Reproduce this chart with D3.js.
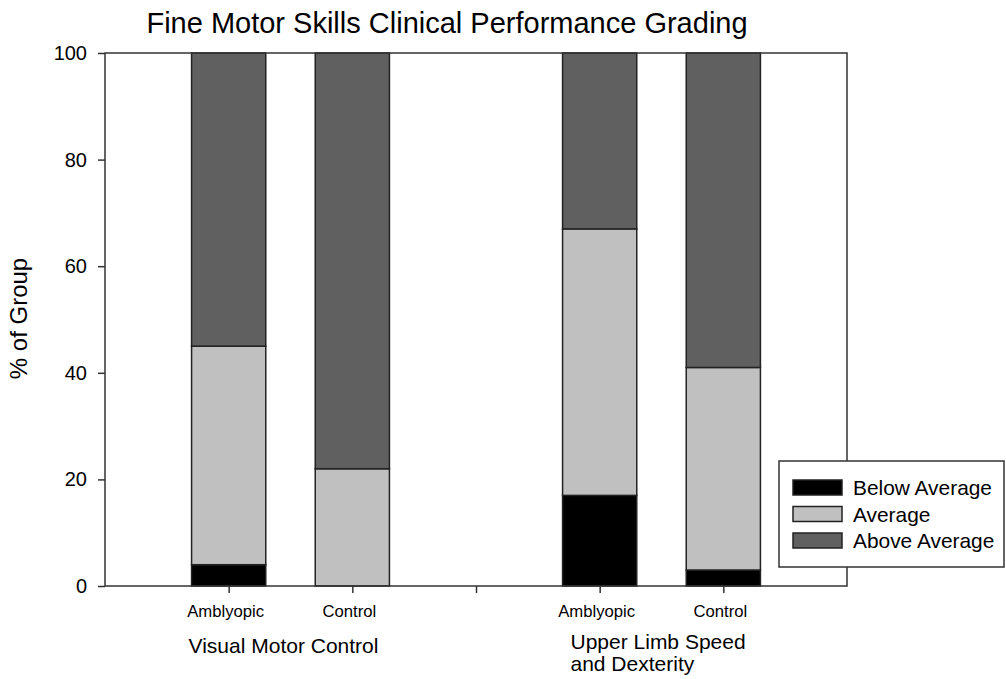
<!DOCTYPE html>
<html>
<head>
<meta charset="utf-8">
<script src="https://cdn.jsdelivr.net/npm/d3@7/dist/d3.min.js"></script>
<style>
  body { margin: 0; background: #fff; }
  text { font-family: "Liberation Sans", Arial, sans-serif; fill: #000; }
</style>
</head>
<body>
<script>
// data
const groups = ['Visual Motor Control', 'Upper Limb Speed\nand Dexterity']
const categories = ['Amblyopic', 'Control', 'Amblyopic', 'Control']
const categoryGroup = [0, 0, 1, 1]
const seriesNames = ['Below Average', 'Average', 'Above Average']
const belowAverage = [4, 0, 17, 3]
const average = [41, 22, 50, 38]
const aboveAverage = [55, 78, 33, 59]
const yTicks = [0, 20, 40, 60, 80, 100]
const colors = ['#000000', '#c0c0c0', '#606060']

const width = 1006
const height = 679
const margin = { top: 53, right: 159, bottom: 93, left: 105 }

const svg = d3.select('body')
  .append('svg')
  .attr('width', width)
  .attr('height', height)

const plotW = width - margin.left - margin.right
const plotH = height - margin.top - margin.bottom

// slot on the x axis: one empty slot between the two groups
const slot = (i) => i + 1 + categoryGroup[i]

const x = d3.scaleLinear().domain([0, 6]).range([margin.left, margin.left + plotW])
const y = d3.scaleLinear().domain([0, 100]).range([margin.top + plotH, margin.top])
const barW = (x(1) - x(0)) * 0.6

const rows = categories.map((c, i) => ({
  i: i,
  'Below Average': belowAverage[i],
  'Average': average[i],
  'Above Average': aboveAverage[i]
}))
const stacked = d3.stack().keys(seriesNames)(rows)

const bars = svg.append('g')
stacked.forEach((layer, k) => {
  bars.selectAll(null)
    .data(layer.filter(d => d[1] > d[0]))
    .enter()
    .append('rect')
    .attr('x', d => x(slot(d.data.i)) - barW / 2)
    .attr('width', barW)
    .attr('y', d => y(d[1]))
    .attr('height', d => y(d[0]) - y(d[1]))
    .attr('fill', colors[k])
    .attr('stroke', '#222')
    .attr('stroke-width', 1.5)
})

// frame
svg.append('rect')
  .attr('x', margin.left)
  .attr('y', margin.top)
  .attr('width', plotW)
  .attr('height', plotH)
  .attr('fill', 'none')
  .attr('stroke', '#333')
  .attr('stroke-width', 1.5)

// y axis
const yAxis = svg.append('g')
  .attr('transform', `translate(${margin.left},0)`)
  .call(d3.axisLeft(y).tickValues(yTicks).tickSize(7).tickPadding(11).tickFormat(d3.format('d')))
yAxis.select('.domain').remove()
yAxis.selectAll('line').attr('stroke', '#333').attr('stroke-width', 1.5)
yAxis.selectAll('text').attr('font-size', 20).attr('font-family', '"Liberation Sans", Arial, sans-serif')

// x axis ticks at slots 1..5
const xAxis = svg.append('g')
  .attr('transform', `translate(0,${margin.top + plotH})`)
  .call(d3.axisBottom(x).tickValues([1, 2, 3, 4, 5]).tickSize(7).tickFormat(''))
xAxis.select('.domain').remove()
xAxis.selectAll('line').attr('stroke', '#333').attr('stroke-width', 1.5)

// category labels
svg.selectAll('.cat')
  .data(categories)
  .enter()
  .append('text')
  .attr('class', 'cat')
  .attr('x', (d, i) => x(slot(i)) - 3)
  .attr('y', 617)
  .attr('text-anchor', 'middle')
  .attr('font-size', 16.7)
  .text(d => d)

// group labels
groups.forEach((g, gi) => {
  const idx = categoryGroup.map((v, i) => v === gi ? i : -1).filter(i => i >= 0)
  const cx = (x(slot(idx[0])) + x(slot(idx[idx.length - 1]))) / 2
  const lines = g.split('\n')
  const t = svg.append('text')
    .attr('font-size', 21)
    .attr('y', lines.length > 1 ? 649 : 653)
  if (lines.length > 1) {
    t.attr('x', cx - 91)
    lines.forEach((l, li) => {
      t.append('tspan').attr('x', cx - 91).attr('dy', li === 0 ? 0 : 22).text(l)
    })
  } else {
    t.attr('x', cx - 7).attr('text-anchor', 'middle').text(g)
  }
})

// title
svg.append('text')
  .attr('x', 447)
  .attr('y', 33)
  .attr('text-anchor', 'middle')
  .attr('font-size', 29)
  .text('Fine Motor Skills Clinical Performance Grading')

// y label
svg.append('text')
  .attr('transform', `translate(27,${margin.top + plotH / 2 - 1}) rotate(-90)`)
  .attr('text-anchor', 'middle')
  .attr('font-size', 24)
  .text('% of Group')

// legend
const legend = svg.append('g').attr('transform', 'translate(779,461)')
legend.append('rect')
  .attr('width', 225)
  .attr('height', 106)
  .attr('fill', '#fff')
  .attr('stroke', '#333')
  .attr('stroke-width', 1.5)
seriesNames.forEach((s, k) => {
  legend.append('rect')
    .attr('x', 14)
    .attr('y', 19 + k * 26.5)
    .attr('width', 49)
    .attr('height', 15)
    .attr('fill', colors[k])
    .attr('stroke', '#222')
    .attr('stroke-width', 1.5)
  legend.append('text')
    .attr('x', 74)
    .attr('y', 34 + k * 26.5)
    .attr('font-size', 20.9)
    .text(s)
})
</script>
</body>
</html>
